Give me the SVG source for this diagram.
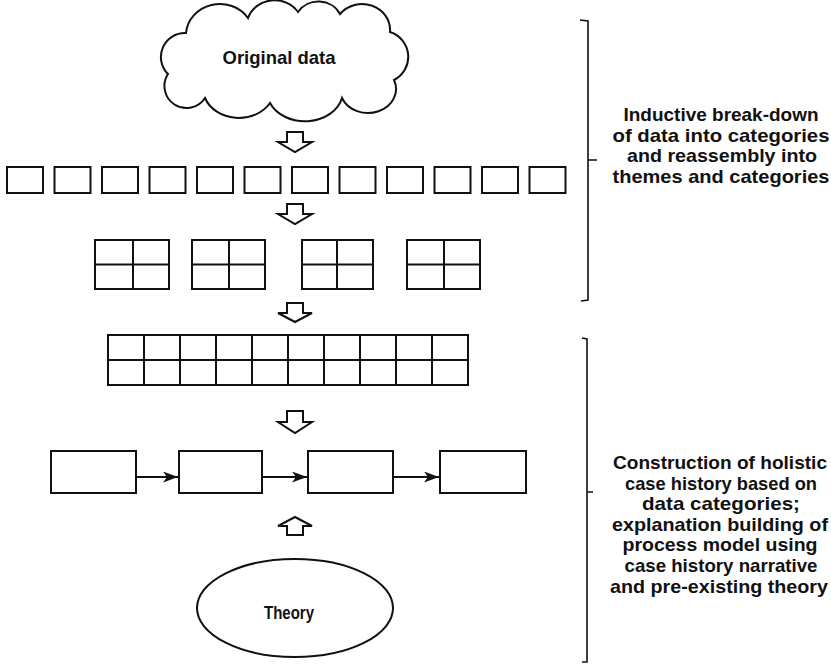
<svg xmlns="http://www.w3.org/2000/svg" width="831" height="666" viewBox="0 0 831 666">
<style>
.s{fill:#fff;stroke:#111;stroke-width:2}
.g{fill:none;stroke:#111;stroke-width:2}
.ba{fill:#fff;stroke:#111;stroke-width:2;stroke-linejoin:miter}
.br{fill:none;stroke:#111;stroke-width:1.6}
.t{font-family:"Liberation Sans",Arial,sans-serif;font-weight:bold;font-size:19px;fill:#111;text-anchor:middle}
.c{stroke:#111;stroke-width:2.2;fill:none}
</style>
<defs>
<marker id="ah" viewBox="0 0 15 11" refX="15" refY="5.5" markerWidth="15" markerHeight="11" markerUnits="userSpaceOnUse" orient="auto">
<path d="M0,0 L15,5.5 L0,11 L4,5.5 Z" fill="#111"/>
</marker>
</defs>
<rect width="831" height="666" fill="#fff"/>

<g id="original-data">
<path class="s" d="M168 74 A24 24 0 0 1 186 33 A34 32 0 0 1 248 18 A28 26 0 0 1 298 12 A24 22 0 0 1 340 14 A28 26 0 0 1 390 32 A26 26 0 0 1 394 80 A28 24 0 0 1 342 98 A38 30 0 0 1 270 103 A36 30 0 0 1 205 98 A22 22 0 0 1 168 74 Z"/>
<text class="t" x="279" y="64" font-size="18.5" textLength="113" lengthAdjust="spacingAndGlyphs">Original data</text>
</g>

<g id="arrow-1"><polygon class="ba" points="287,132 303,132 303,142 312,142 295,152 278,142 287,142"/></g>

<g id="fragments">
<rect class="s" x="7" y="167" width="36" height="26"/>
<rect class="s" x="54.5" y="167" width="36" height="26"/>
<rect class="s" x="102" y="167" width="36" height="26"/>
<rect class="s" x="149.5" y="167" width="36" height="26"/>
<rect class="s" x="197" y="167" width="36" height="26"/>
<rect class="s" x="244.5" y="167" width="36" height="26"/>
<rect class="s" x="292" y="167" width="36" height="26"/>
<rect class="s" x="339.5" y="167" width="36" height="26"/>
<rect class="s" x="387" y="167" width="36" height="26"/>
<rect class="s" x="434.5" y="167" width="36" height="26"/>
<rect class="s" x="482" y="167" width="36" height="26"/>
<rect class="s" x="529.5" y="167" width="36" height="26"/>
</g>

<g id="arrow-2"><polygon class="ba" points="287,204 303,204 303,214 312,214 295,224 278,214 287,214"/></g>

<g id="grids">
<rect class="s" x="95" y="240" width="74" height="49"/><path class="g" d="M133 240V289M95 264.5H169"/>
<rect class="s" x="192" y="240" width="73" height="49"/><path class="g" d="M229 240V289M192 264.5H265"/>
<rect class="s" x="302" y="240" width="71" height="49"/><path class="g" d="M337 240V289M302 264.5H373"/>
<rect class="s" x="407" y="240" width="73" height="49"/><path class="g" d="M444 240V289M407 264.5H480"/>
</g>

<g id="arrow-3"><polygon class="ba" points="287,303 303,303 303,313 312,313 295,322 278,313 287,313"/></g>

<g id="assembled">
<rect class="s" x="108" y="335" width="360" height="50"/>
<path class="g" d="M108 360H468M144 335V385M180 335V385M216 335V385M252 335V385M288 335V385M324 335V385M360 335V385M396 335V385M432 335V385"/>
</g>

<g id="arrow-4"><polygon class="ba" points="287,411 303,411 303,422 312,422 295,433 278,422 287,422"/></g>

<g id="box-1"><rect class="s" x="51" y="451" width="85" height="42"/></g>
<g id="box-2"><rect class="s" x="179" y="451" width="83" height="42"/></g>
<g id="box-3"><rect class="s" x="308" y="451" width="85" height="42"/></g>
<g id="box-4"><rect class="s" x="440" y="451" width="86" height="42"/></g>

<g id="connectors">
<line class="c" x1="136" y1="477" x2="178" y2="477" marker-end="url(#ah)"/>
<line class="c" x1="262" y1="477" x2="307" y2="477" marker-end="url(#ah)"/>
<line class="c" x1="393" y1="477" x2="439" y2="477" marker-end="url(#ah)"/>
</g>

<g id="arrow-up"><polygon class="ba" points="295,517 312,526 303,526 303,535 287,535 287,526 278,526"/></g>

<g id="theory">
<ellipse class="s" cx="295" cy="608" rx="98" ry="49"/>
<text class="t" x="289" y="619" font-size="17" textLength="50" lengthAdjust="spacingAndGlyphs">Theory</text>
</g>

<g id="bracket-top">
<path class="br" d="M580 20L588 21V300L581 301M588 160H597"/>
<text class="t" x="721" y="121" textLength="195" lengthAdjust="spacingAndGlyphs">Inductive break-down</text>
<text class="t" x="721" y="142" textLength="217" lengthAdjust="spacingAndGlyphs">of data into categories</text>
<text class="t" x="722" y="162" textLength="190" lengthAdjust="spacingAndGlyphs">and reassembly into</text>
<text class="t" x="721" y="183" textLength="217" lengthAdjust="spacingAndGlyphs">themes and categories</text>
</g>

<g id="bracket-bottom">
<path class="br" d="M582 338L587 339V662L582 662M587 492H593"/>
<text class="t" x="720" y="469" textLength="214" lengthAdjust="spacingAndGlyphs">Construction of holistic</text>
<text class="t" x="721" y="490" textLength="192" lengthAdjust="spacingAndGlyphs">case history based on</text>
<text class="t" x="721" y="510" textLength="158" lengthAdjust="spacingAndGlyphs">data categories;</text>
<text class="t" x="720" y="531" textLength="216" lengthAdjust="spacingAndGlyphs">explanation building of</text>
<text class="t" x="720" y="551" textLength="195" lengthAdjust="spacingAndGlyphs">process model using</text>
<text class="t" x="721" y="572" textLength="193" lengthAdjust="spacingAndGlyphs">case history narrative</text>
<text class="t" x="719" y="593" textLength="218" lengthAdjust="spacingAndGlyphs">and pre-existing theory</text>
</g>
</svg>
